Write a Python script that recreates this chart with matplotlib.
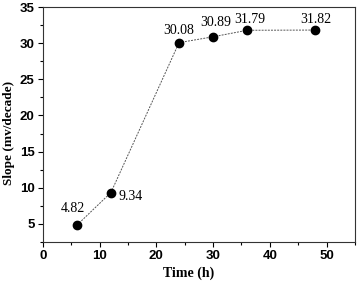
import matplotlib
matplotlib.use("Agg")
import matplotlib.pyplot as plt
from matplotlib.ticker import MultipleLocator

time_h = [6, 12, 24, 30, 36, 48]
slope = [4.82, 9.34, 30.08, 30.89, 31.79, 31.82]
labels = ["4.82", "9.34", "30.08", "30.89", "31.79", "31.82"]
# label offsets in pixels (dx, dy)
offsets = [(-4, 17), (20, -4), (0, 12), (3, 14), (3, 11), (1, 11)]


def main():
    fig = plt.figure(figsize=(3.6, 2.83), dpi=100)
    ax = fig.add_axes([0.119, 0.145, 0.867, 0.83])

    ax.plot(time_h, slope, linestyle=(0, (2, 1.2)), color="#555555",
            linewidth=0.7, marker="o", markersize=6,
            markerfacecolor="black", markeredgecolor="black")

    for x, y, t, (dx, dy) in zip(time_h, slope, labels, offsets):
        ax.annotate(t, (x, y), xytext=(dx, dy), textcoords="offset pixels",
                    ha="center", va="center", fontsize=10,
                    family="Liberation Serif")

    ax.set_xlim(0, 55)
    ax.set_ylim(2.5, 35)
    ax.xaxis.set_major_locator(MultipleLocator(10))
    ax.xaxis.set_minor_locator(MultipleLocator(5))
    ax.yaxis.set_major_locator(MultipleLocator(5))
    ax.yaxis.set_minor_locator(MultipleLocator(2.5))
    ax.tick_params(which="major", direction="out", length=3.5, width=0.8,
                   labelsize=9.5, pad=2.5)
    ax.tick_params(which="minor", direction="out", length=2, width=0.8)
    for lab in ax.get_xticklabels() + ax.get_yticklabels():
        lab.set_family("Liberation Sans")
        lab.set_fontweight("bold")

    ax.set_xlabel("Time (h)", family="Liberation Serif", fontweight="bold",
                  fontsize=10, va="center")
    ax.set_ylabel("Slope (mv/decade)", family="Liberation Serif",
                  fontweight="bold", fontsize=9.5, va="center")
    ax.xaxis.set_label_coords(0.468, -0.132)
    ax.yaxis.set_label_coords(-0.11, 0.464)

    for s in ax.spines.values():
        s.set_linewidth(0.8)
        s.set_color("#333333")

    fig.savefig("out.png", dpi=100)


if __name__ == "__main__":
    main()
